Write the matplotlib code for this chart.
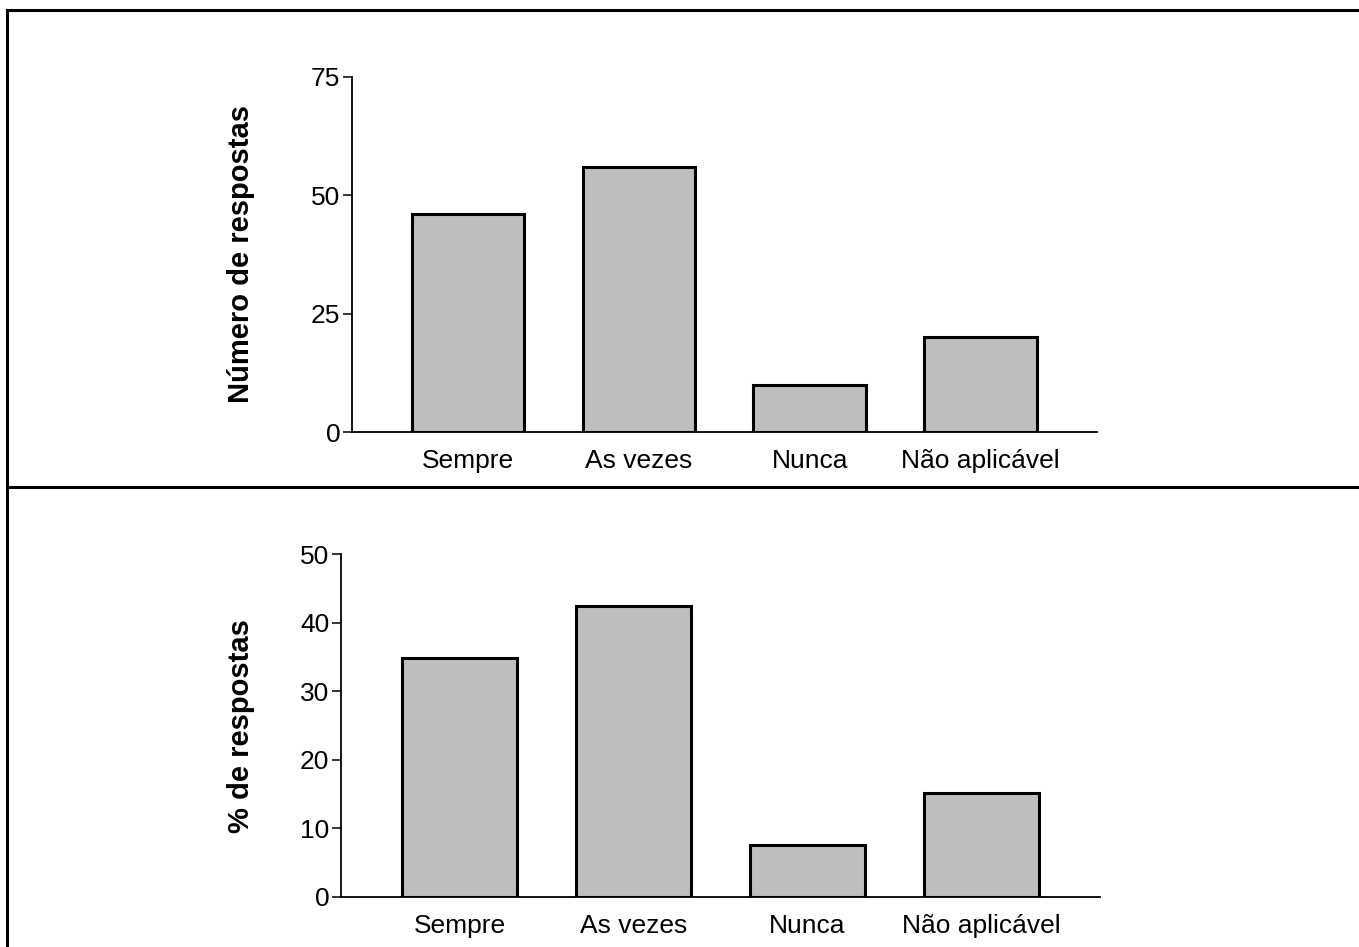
import matplotlib
matplotlib.use("Agg")
import matplotlib.pyplot as plt
from matplotlib.lines import Line2D

# Dados
categorias = ["Sempre", "As vezes", "Nunca", "Não aplicável"]
n_respostas = [46, 56, 10, 20]
pct_respostas = [34.8, 42.4, 7.6, 15.2]

plt.rcParams["font.family"] = ["Liberation Sans", "DejaVu Sans"]

fig = plt.figure(figsize=(13.59, 9.47), dpi=100)

ax1 = fig.add_axes([0.259, 0.5438, 0.548, 0.375])
ax2 = fig.add_axes([0.251, 0.0528, 0.5584, 0.362])

x = range(len(categorias))


def estilo(ax, valores, ylim, yticks, ylabel, labelx):
    ax.bar(x, valores, width=0.66, color="#bebebe", edgecolor="black", linewidth=2.2, zorder=3)
    ax.set_xlim(-0.68, 3.68)
    ax.set_ylim(*ylim)
    ax.set_yticks(yticks)
    ax.set_xticks(list(x))
    ax.set_xticklabels(categorias)
    for s in ["top", "right"]:
        ax.spines[s].set_visible(False)
    for s in ["left", "bottom"]:
        ax.spines[s].set_linewidth(1.3)
    ax.tick_params(axis="y", length=6.5, width=1.1, pad=2, labelsize=19)
    ax.tick_params(axis="x", length=0, pad=12, labelsize=19)
    ax.set_ylabel(ylabel, fontsize=21, fontweight="bold")
    ax.yaxis.set_label_coords(labelx, 0.5)


estilo(ax1, n_respostas, (0, 75), [0, 25, 50, 75], "Número de respostas", -0.13)
estilo(ax2, pct_respostas, (0, 50), [0, 10, 20, 30, 40, 50], "% de respostas", -0.113)

# Moldura
fig.add_artist(Line2D([0.0052, 1.0], [0.9894, 0.9894], color="black", linewidth=2.2, transform=fig.transFigure))
fig.add_artist(Line2D([0.0052, 0.0052], [0.0, 0.9894], color="black", linewidth=2.2, transform=fig.transFigure))
fig.add_artist(Line2D([0.0052, 1.0], [0.4857, 0.4857], color="black", linewidth=2.2, transform=fig.transFigure))

fig.savefig("out.png", dpi=100)
plt.close(fig)
